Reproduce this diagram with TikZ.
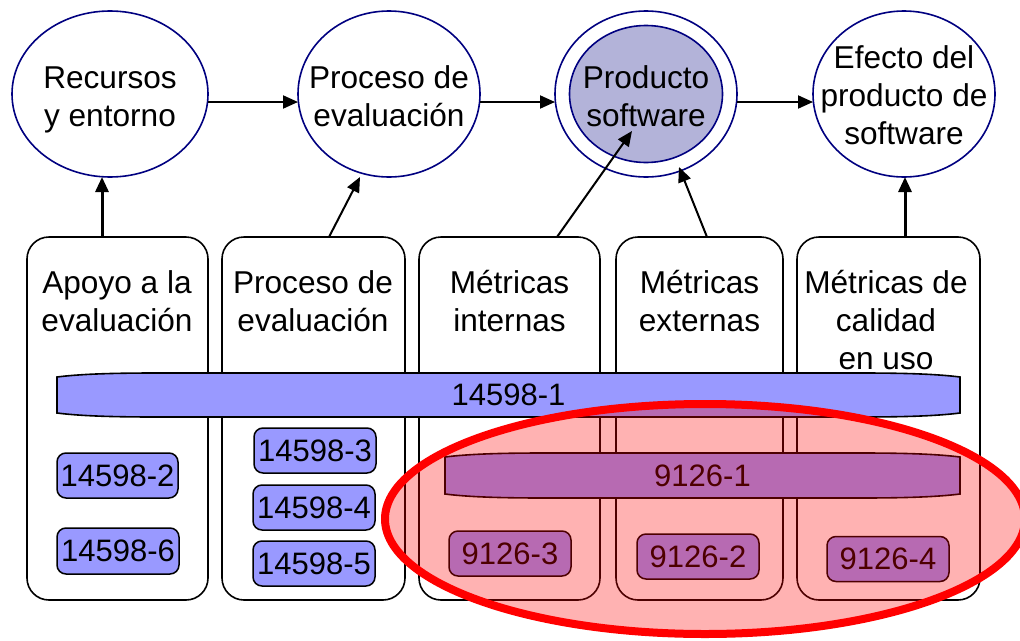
\documentclass[tikz,border=0pt]{standalone}
\usepackage{fontspec}
\setmainfont{Liberation Sans}
\usetikzlibrary{arrows.meta,shapes.geometric}
\definecolor{navy}{RGB}{0,0,128}
\definecolor{bluef}{RGB}{153,153,255}
\definecolor{lavf}{RGB}{179,179,217}
\newcommand\sst{\rule[-8pt]{0pt}{31pt}}
% pinched bar: x0 x1 ytop ybottom
\newcommand\pinchbar[4]{%
  \draw[barline] (#1,#3+4) .. controls (#1+25,#3+0.8) and (#1+60,#3) .. (#1+100,#3)
    -- (#2-100,#3) .. controls (#2-60,#3) and (#2-25,#3+0.8) .. (#2,#3+4)
    -- (#2,#4-4) .. controls (#2-25,#4-0.8) and (#2-60,#4) .. (#2-100,#4)
    -- (#1+100,#4) .. controls (#1+60,#4) and (#1+25,#4-0.8) .. (#1,#4-4) -- cycle;}
\begin{document}
\begin{tikzpicture}[x=1pt,y=-1pt,
  every node/.style={font=\fontsize{31}{38}\selectfont, inner sep=0pt, outer sep=0pt},
  bubble/.style={ellipse, draw=navy, line width=1.6pt, fill=white, minimum width=182pt, minimum height=166pt},
  colbox/.style={draw=black, line width=1.6pt, fill=white, rounded corners=22pt, minimum height=363pt},
  sbox/.style={draw=black, line width=1.5pt, fill=bluef, rounded corners=9pt, minimum width=122pt, minimum height=45pt},
  barline/.style={draw=black, line width=1.6pt, fill=bluef},
  lbl/.style={align=center, font=\fontsize{31.6}{38}\selectfont},
  arr/.style={-{Triangle[length=15pt,width=13pt]}, line width=2pt, black},
  arrthick/.style={arr, line width=3pt}
]
\useasboundingbox (0,0) rectangle (1020,640);
\fill[white] (0,0) rectangle (1020,640);

% top ellipses
\node[bubble, minimum width=196pt] (e1) at (110,94) {};
\node[bubble] (e2) at (389,94) {};
\node[bubble] (e3) at (646,94) {};
\node[ellipse, draw=navy, line width=1.6pt, fill=lavf, minimum width=153pt, minimum height=137pt] (e3i) at (646,94) {};
\node[bubble] (e4) at (904,94) {};
\node[lbl] (e1t) at (110,99.5) {\sst Recursos\hspace{7pt}\\\sst y entorno};
\node[lbl] (e2t) at (389,99.5) {\sst Proceso de\\\sst evaluación};
\node[lbl] (e3t) at (646,99.5) {\sst Producto\\\sst software};
\node[lbl] (e4t) at (904,98.5) {\sst Efecto del\\\sst producto de\\\sst software};

% columns
\node[colbox, minimum width=181pt] (c1) at (117.5,418.5) {};
\node[colbox, minimum width=183pt] (c2) at (313.5,418.5) {};
\node[colbox, minimum width=181pt] (c3) at (509.5,418.5) {};
\node[colbox, minimum width=167pt] (c4) at (699.5,418.5) {};
\node[colbox, minimum width=183pt] (c5) at (888.5,418.5) {};
\node[lbl] (c1t) at (117,304.5) {\sst Apoyo a la\hspace{9pt}\\\sst evaluación};
\node[lbl] (c2t) at (313,304.5) {\sst Proceso de\hspace{8pt}\\\sst evaluación};
\node[lbl] (c3t) at (509.5,304.5) {\sst Métricas\\\sst internas};
\node[lbl] (c4t) at (699.5,304.5) {\sst Métricas\\\sst externas};
\node[lbl] (c5t) at (886,323.5) {\sst Métricas de\\\sst calidad\\\sst en uso};

% bars
\pinchbar{57}{960}{373}{417}
\node (b1) at (508.5,395) {14598-1};
\pinchbar{445}{960}{453}{498}
\node (b9) at (702.5,475.5) {9126-1};

% small boxes
\node[sbox, minimum width=121pt] (s2) at (117.5,475.5) {14598-2};
\node[sbox, minimum height=46pt] (s6) at (118,551) {14598-6};
\node[sbox] (s3) at (315,450.5) {14598-3};
\node[sbox] (s4) at (314,507.5) {14598-4};
\node[sbox] (s5) at (314,563.5) {14598-5};
\node[sbox] (k3) at (510,553.5) {9126-3};
\node[sbox] (k2) at (698,556.5) {9126-2};
\node[sbox] (k4) at (888,559) {9126-4};

% arrows
\draw[arr] ([yshift=-8pt]e1.east) -- ([yshift=-8pt]e2.west);
\draw[arr] ([yshift=-8pt]e2.east) -- ([yshift=-8pt]e3.west);
\draw[arr] ([yshift=-8pt]e3.east) -- ([yshift=-8pt]e4.west);
\coordinate (p1) at (102,0);
\coordinate (p5) at (905,0);
\coordinate (t2s) at (329,0);
\coordinate (t2e) at (360,177);
\coordinate (t3s) at (557,0);
\coordinate (t3e) at (632,131);
\coordinate (t4s) at (707,0);
\coordinate (t4e) at (679,167);
\draw[arrthick] (c1.north -| p1) -- (e1.south -| p1);
\draw[arrthick] (c5.north -| p5) -- (e4.south -| p5);
\draw[arr] (c2.north -| t2s) -- (t2e);
\draw[arr] (c3.north -| t3s) -- (t3e);
\draw[arr] (c4.north -| t4s) -- (t4e);

% highlight ellipse
\node[ellipse, draw=red, line width=8pt, fill=red, fill opacity=0.3, draw opacity=1,
      minimum width=640pt, minimum height=230pt] (hl) at (705,519) {};
\end{tikzpicture}
\end{document}
